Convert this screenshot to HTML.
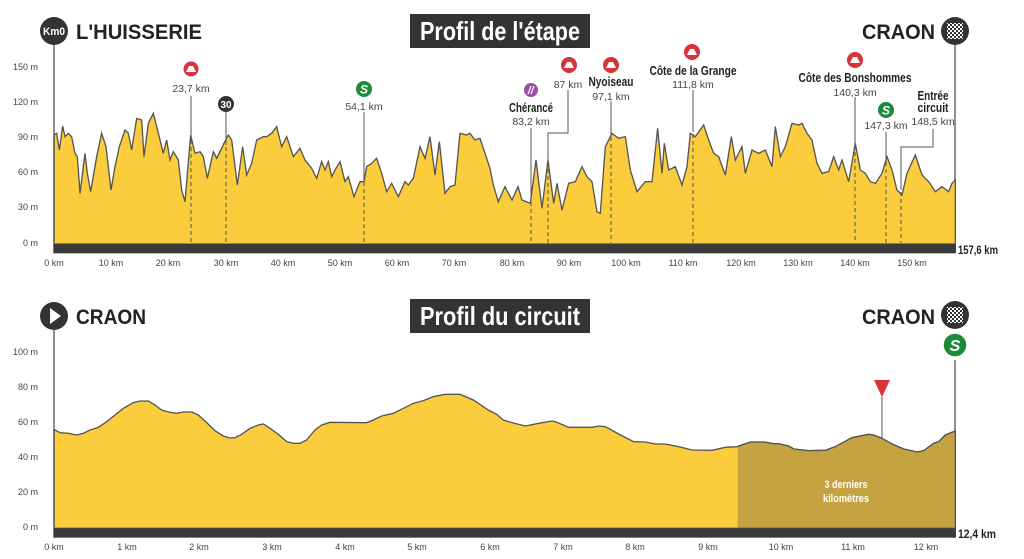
<!DOCTYPE html>
<html><head><meta charset="utf-8"><style>
html,body{margin:0;padding:0;background:#fff;}
svg{display:block;font-family:"Liberation Sans Narrow","Liberation Sans",sans-serif;}
.ax{font-size:9px;fill:#444;}
.b{font-weight:bold;fill:#222;}
.g{fill:#444;font-size:10.5px;}
</style></head><body>
<svg width="1024" height="559" viewBox="0 0 1024 559" xmlns="http://www.w3.org/2000/svg">
<defs>
<clipPath id="dk"><rect x="2213" y="0" width="2000" height="2000"/></clipPath>
<pattern id="chk" width="4" height="4" patternUnits="userSpaceOnUse"><rect width="4" height="4" fill="#333"/><rect width="2" height="2" fill="#fff"/><rect x="2" y="2" width="2" height="2" fill="#fff"/></pattern>
</defs>
<g transform="scale(0.33333)">
<polygon fill="#fbcd3c" stroke="#555" stroke-width="4" points="162,732 162,405 170,400 178,450 188,378 195,410 205,400 215,410 225,460 232,470 240,580 255,460 262,520 272,575 290,470 305,400 318,440 333,570 345,500 358,440 375,390 385,400 395,450 410,355 425,360 432,470 445,370 460,340 475,400 490,460 500,420 510,480 520,455 535,480 545,570 555,605 572,405 585,460 600,455 610,470 622,535 640,455 650,475 660,455 672,430 685,405 695,420 712,555 728,440 740,525 755,490 770,420 790,410 800,410 815,400 830,380 845,440 860,410 880,470 900,445 915,480 935,505 950,535 965,485 975,510 985,485 995,530 1005,510 1020,485 1035,545 1045,530 1062,590 1080,545 1092,545 1100,500 1115,490 1130,475 1145,520 1160,575 1175,550 1195,590 1215,545 1225,555 1240,535 1260,440 1275,475 1290,410 1305,525 1318,425 1335,580 1350,560 1365,555 1380,400 1400,405 1410,400 1425,420 1440,415 1455,460 1470,505 1480,555 1495,605 1515,560 1536,600 1554,560 1566,600 1591,610 1608,480 1626,625 1644,480 1661,610 1671,550 1686,630 1706,550 1726,545 1746,500 1761,530 1776,545 1791,635 1801,640 1816,440 1836,400 1856,415 1876,410 1891,510 1911,575 1936,545 1956,545 1973,385 1986,520 1993,430 2006,510 2026,500 2046,555 2061,500 2071,400 2086,410 2111,375 2126,420 2141,460 2156,470 2176,525 2194,410 2206,480 2226,440 2236,520 2256,450 2276,460 2296,450 2316,500 2326,380 2341,470 2356,440 2376,370 2396,375 2406,370 2421,400 2436,420 2451,490 2466,520 2486,515 2501,470 2516,510 2526,480 2546,545 2566,430 2581,510 2596,520 2611,545 2626,550 2646,520 2661,470 2676,510 2691,570 2706,585 2721,520 2746,465 2766,525 2786,545 2806,575 2826,560 2846,575 2856,550 2866,540 2866,732"/>
<rect x="160" y="732" width="2708" height="28" fill="#3a3a3a"/>
</g>
<line x1="54" y1="44" x2="54" y2="243" stroke="#555" stroke-width="1.3"/>
<line x1="955" y1="44" x2="955" y2="180" stroke="#555" stroke-width="1.3"/>
<circle cx="54" cy="31" r="14" fill="#333"/><text x="54" y="35" font-size="11" fill="#fff" text-anchor="middle" font-weight="bold" textLength="22" lengthAdjust="spacingAndGlyphs">Km0</text>
<text x="76" y="39" font-size="21" class="b" fill="#333" textLength="126" lengthAdjust="spacingAndGlyphs">L'HUISSERIE</text>
<rect x="410" y="14" width="180" height="34" fill="#333"/>
<text x="420" y="40" font-size="26" font-weight="bold" fill="#fff" textLength="160" lengthAdjust="spacingAndGlyphs">Profil de l'étape</text>
<text x="862" y="39" font-size="21" class="b" fill="#333" textLength="73" lengthAdjust="spacingAndGlyphs">CRAON</text>
<circle cx="955" cy="31" r="14" fill="#333"/><rect x="947" y="23" width="16" height="16" fill="url(#chk)"/>
<g class="ax" text-anchor="end">
<text x="38" y="70">150 m</text><text x="38" y="105">120 m</text><text x="38" y="140">90 m</text><text x="38" y="175">60 m</text><text x="38" y="210">30 m</text><text x="38" y="246">0 m</text>
</g>
<g class="ax" text-anchor="middle">
<text x="54" y="266">0 km</text><text x="111" y="266">10 km</text><text x="168" y="266">20 km</text><text x="226" y="266">30 km</text><text x="283" y="266">40 km</text><text x="340" y="266">50 km</text><text x="397" y="266">60 km</text><text x="454" y="266">70 km</text><text x="512" y="266">80 km</text><text x="569" y="266">90 km</text><text x="626" y="266">100 km</text><text x="683" y="266">110 km</text><text x="741" y="266">120 km</text><text x="798" y="266">130 km</text><text x="855" y="266">140 km</text><text x="912" y="266">150 km</text>
</g>
<text x="958" y="254" font-size="12" class="b" textLength="40" lengthAdjust="spacingAndGlyphs">157,6 km</text>
<g stroke="#555" stroke-width="1" fill="none">
<line x1="191" y1="96" x2="191" y2="138"/><line x1="191" y1="140" x2="191" y2="243" stroke-dasharray="4,3"/>
<line x1="226" y1="112" x2="226" y2="145"/><line x1="226" y1="147" x2="226" y2="243" stroke-dasharray="4,3"/>
<line x1="364" y1="112" x2="364" y2="180"/><line x1="364" y1="182" x2="364" y2="243" stroke-dasharray="4,3"/>
<line x1="531" y1="128" x2="531" y2="200"/><line x1="531" y1="202" x2="531" y2="243" stroke-dasharray="4,3"/>
<polyline points="568,90 568,133 548,133 548,160"/><line x1="548" y1="162" x2="548" y2="243" stroke-dasharray="4,3"/>
<line x1="611" y1="101" x2="611" y2="135"/><line x1="611" y1="137" x2="611" y2="243" stroke-dasharray="4,3"/>
<line x1="693" y1="90" x2="693" y2="132"/><line x1="693" y1="134" x2="693" y2="243" stroke-dasharray="4,3"/>
<line x1="855" y1="97" x2="855" y2="150"/><line x1="855" y1="152" x2="855" y2="243" stroke-dasharray="4,3"/>
<line x1="886" y1="132" x2="886" y2="160"/><line x1="886" y1="162" x2="886" y2="243" stroke-dasharray="4,3"/>
<polyline points="933,129 933,147 901,147 901,190"/><line x1="901" y1="192" x2="901" y2="243" stroke-dasharray="4,3"/>
</g>
<g>
<circle cx="191" cy="69" r="8" fill="#d9333a" stroke="#fff" stroke-width="1"/><path d="M186,72 L189,66 L193,66 L196,72Z" fill="#fff"/>
<circle cx="226" cy="104" r="8" fill="#333"/><text x="226" y="108" font-size="10" fill="#fff" text-anchor="middle" font-weight="bold">30</text>
<circle cx="364" cy="89" r="8" fill="#1e8a3a"/><text x="364" y="93.5" font-size="12" fill="#fff" text-anchor="middle" font-weight="bold" font-style="italic">S</text>
<circle cx="531" cy="90" r="7" fill="#9b4fa5"/><path d="M528,94 L531,86 M531,94 L534,86" stroke="#fff" stroke-width="1.2"/>
<circle cx="569" cy="65" r="8" fill="#d9333a"/><path d="M564,68 L567,62 L571,62 L574,68Z" fill="#fff"/>
<circle cx="611" cy="65" r="8" fill="#d9333a"/><path d="M606,68 L609,62 L613,62 L616,68Z" fill="#fff"/>
<circle cx="692" cy="52" r="8" fill="#d9333a"/><path d="M687,55 L690,49 L694,49 L697,55Z" fill="#fff"/>
<circle cx="855" cy="60" r="8" fill="#d9333a"/><path d="M850,63 L853,57 L857,57 L860,63Z" fill="#fff"/>
<circle cx="886" cy="110" r="8" fill="#1e8a3a"/><text x="886" y="114.5" font-size="12" fill="#fff" text-anchor="middle" font-weight="bold" font-style="italic">S</text>
</g>
<g class="g" text-anchor="middle">
<text x="191" y="92">23,7 km</text>
<text x="364" y="110">54,1 km</text>
<text x="531" y="125">83,2 km</text>
<text x="568" y="88">87 km</text>
<text x="611" y="100">97,1 km</text>
<text x="693" y="88">111,8 km</text>
<text x="855" y="96">140,3 km</text>
<text x="886" y="129">147,3 km</text>
<text x="933" y="125">148,5 km</text>
</g>
<g class="b" font-size="13" text-anchor="middle">
<text x="531" y="112" textLength="44" lengthAdjust="spacingAndGlyphs">Chérancé</text>
<text x="611" y="86" textLength="45" lengthAdjust="spacingAndGlyphs">Nyoiseau</text>
<text x="693" y="75" textLength="87" lengthAdjust="spacingAndGlyphs">Côte de la Grange</text>
<text x="855" y="82" textLength="113" lengthAdjust="spacingAndGlyphs">Côte des Bonshommes</text>
<text x="933" y="100" textLength="31" lengthAdjust="spacingAndGlyphs">Entrée</text>
<text x="933" y="112" textLength="31" lengthAdjust="spacingAndGlyphs">circuit</text>
</g>

<g transform="translate(0,290) scale(0.33333)">
<polygon fill="#fbcd3c" stroke="#555" stroke-width="4" points="162,715 162,418 180,428 205,430 230,435 250,430 270,420 295,412 320,395 345,375 370,355 400,338 420,333 445,333 465,345 485,360 510,367 530,370 550,366 575,366 595,375 620,398 645,422 670,438 690,444 705,443 725,433 750,415 775,405 790,402 810,415 835,433 860,455 880,460 900,460 920,450 945,420 965,405 990,397 1100,398 1120,390 1145,378 1180,370 1210,355 1240,340 1270,332 1300,320 1335,313 1380,313 1420,330 1465,360 1490,373 1510,390 1536,398 1576,408 1616,400 1656,393 1666,395 1706,412 1776,412 1796,408 1816,410 1856,432 1901,455 1936,456 1966,462 1996,462 2036,470 2076,480 2136,481 2176,472 2211,470 2251,456 2291,456 2321,461 2336,461 2366,468 2381,477 2426,482 2476,481 2506,470 2556,443 2606,433 2621,435 2646,445 2676,462 2711,477 2751,486 2771,482 2801,460 2816,455 2836,435 2866,423 2866,715"/>
<g clip-path="url(#dk)"><polygon fill="#c4a340" stroke="#555" stroke-width="4" points="162,715 162,418 1536,398 1576,408 1616,400 1656,393 1666,395 1706,412 1776,412 1796,408 1816,410 1856,432 1901,455 1936,456 1966,462 1996,462 2036,470 2076,480 2136,481 2176,472 2211,470 2251,456 2291,456 2321,461 2336,461 2366,468 2381,477 2426,482 2476,481 2506,470 2556,443 2606,433 2621,435 2646,445 2676,462 2711,477 2751,486 2771,482 2801,460 2816,455 2836,435 2866,423 2866,715"/></g>
<rect x="160" y="715" width="2708" height="28" fill="#3a3a3a"/>
</g>
<line x1="54" y1="328" x2="54" y2="527" stroke="#555" stroke-width="1.3"/>
<line x1="955" y1="360" x2="955" y2="432" stroke="#555" stroke-width="1.3"/>
<line x1="882" y1="397" x2="882" y2="438" stroke="#555" stroke-width="1"/>
<path d="M874,380 L890,380 L882,397Z" fill="#d9333a"/>
<circle cx="54" cy="316" r="14" fill="#333"/><path d="M50,308 L61,316 L50,324Z" fill="#fff"/>
<text x="76" y="324" font-size="21" class="b" fill="#333" textLength="70" lengthAdjust="spacingAndGlyphs">CRAON</text>
<rect x="410" y="299" width="180" height="34" fill="#333"/>
<text x="420" y="325" font-size="26" font-weight="bold" fill="#fff" textLength="160" lengthAdjust="spacingAndGlyphs">Profil du circuit</text>
<text x="862" y="324" font-size="21" class="b" fill="#333" textLength="73" lengthAdjust="spacingAndGlyphs">CRAON</text>
<circle cx="955" cy="315" r="14" fill="#333"/><rect x="947" y="307" width="16" height="16" fill="url(#chk)"/>
<circle cx="955" cy="345" r="12" fill="#1e8a3a" stroke="#fff" stroke-width="1.5"/><text x="955" y="351" font-size="16" fill="#fff" text-anchor="middle" font-weight="bold" font-style="italic">S</text>
<g class="ax" text-anchor="end">
<text x="38" y="355">100 m</text><text x="38" y="390">80 m</text><text x="38" y="425">60 m</text><text x="38" y="460">40 m</text><text x="38" y="495">20 m</text><text x="38" y="530">0 m</text>
</g>
<g class="ax" text-anchor="middle">
<text x="54" y="550">0 km</text><text x="127" y="550">1 km</text><text x="199" y="550">2 km</text><text x="272" y="550">3 km</text><text x="345" y="550">4 km</text><text x="417" y="550">5 km</text><text x="490" y="550">6 km</text><text x="563" y="550">7 km</text><text x="635" y="550">8 km</text><text x="708" y="550">9 km</text><text x="781" y="550">10 km</text><text x="853" y="550">11 km</text><text x="926" y="550">12 km</text>
</g>
<text x="958" y="538" font-size="12" class="b" textLength="38" lengthAdjust="spacingAndGlyphs">12,4 km</text>
<text x="846" y="488" font-size="11" font-weight="bold" fill="#fff" text-anchor="middle" textLength="43" lengthAdjust="spacingAndGlyphs">3 derniers</text>
<text x="846" y="502" font-size="11" font-weight="bold" fill="#fff" text-anchor="middle" textLength="46" lengthAdjust="spacingAndGlyphs">kilomètres</text>
</svg>
</body></html>
